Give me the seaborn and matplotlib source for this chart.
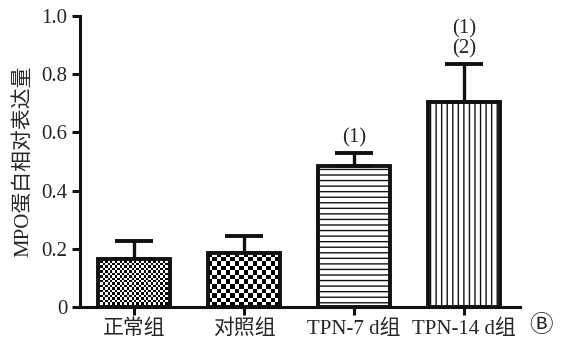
import numpy as np
import pandas as pd
import matplotlib
matplotlib.use('Agg')
import matplotlib.pyplot as plt
import seaborn as sns

groups = ['正常组', '对照组', 'TPN-7 d组', 'TPN-14 d组']
means = [0.165, 0.186, 0.484, 0.705]
errs = [0.062, 0.058, 0.044, 0.130]
marks = ['', '', '(1)', '(1)\n(2)']
yticks = [0, 0.2, 0.4, 0.6, 0.8, 1.0]
ytick_labels = ['0', '0.2', '0.4', '0.6', '0.8', '1.0']

sns.set_style('ticks')
plt.rcParams['font.family'] = ['Liberation Serif', 'Noto Sans CJK SC', 'DejaVu Sans']
plt.rcParams['hatch.linewidth'] = 1.0
plt.rcParams['hatch.color'] = '#333333'

df = pd.DataFrame({'group': groups, 'mean': means})

fig = plt.figure(figsize=(5.61, 3.40), dpi=100)
ax = fig.add_axes([80 / 561, 33 / 340, 440 / 561, 291 / 340])

sns.barplot(data=df, x='group', y='mean', color='white', width=0.65,
            edgecolor='#111111', linewidth=2.8, ax=ax)

ax.errorbar(range(len(groups)), means, yerr=[np.zeros(len(errs)), errs],
            fmt='none', ecolor='#111111', elinewidth=2.4, capsize=14,
            capthick=2.8, zorder=1)

# checkerboard fills for the first two bars, line hatches for the others
def checker(n_rows, n_cols):
    return (np.indices((n_rows, n_cols)).sum(axis=0) % 2).astype(float)

px_per_unit = 291.0
patches = ax.patches
for i, p in enumerate(patches):
    x0, y0 = p.get_x(), p.get_y()
    w, h = p.get_width(), p.get_height()
    if i == 0:
        ncols = 30
    elif i == 1:
        ncols = 16
    else:
        continue
    cell = w * 110 / ncols
    nrows = max(1, int(round(h * px_per_unit / cell)))
    im = ax.imshow(checker(nrows, ncols), cmap='gray',
                   extent=[x0, x0 + w, y0, y0 + h],
                   aspect='auto', interpolation='nearest', zorder=1.5)
    im.set_clip_path(p)
patches[2].set_hatch('---')
patches[3].set_hatch('|||')
for p in patches:
    p.set_zorder(2)
    p.set_facecolor('none')

for i, (m, e, t) in enumerate(zip(means, errs, marks)):
    if t:
        ax.text(i, m + e + 0.02, t, ha='center', va='bottom', fontsize=15,
                linespacing=1.0)

ax.set_xlim(-0.49, 3.51)
ax.set_ylim(0, 1.0)
ax.set_yticks(yticks)
ax.set_yticklabels(ytick_labels, fontsize=15)
ax.set_xticklabels(groups, fontsize=15)
ax.set_xlabel('')
ax.set_ylabel('MPO蛋白相对表达量', fontsize=15, labelpad=6)
sns.despine(ax=ax)
for s in ['left', 'bottom']:
    ax.spines[s].set_linewidth(2.2)
    ax.spines[s].set_color('#111111')
ax.tick_params(axis='both', width=2.2, length=6, color='#111111', pad=3)

fig.text(541 / 561, 1 - 326 / 340, 'Ⓑ', ha='center', va='center',
         fontsize=17, family=['Noto Sans CJK SC', 'DejaVu Sans'])

fig.savefig('out.png', dpi=100)
